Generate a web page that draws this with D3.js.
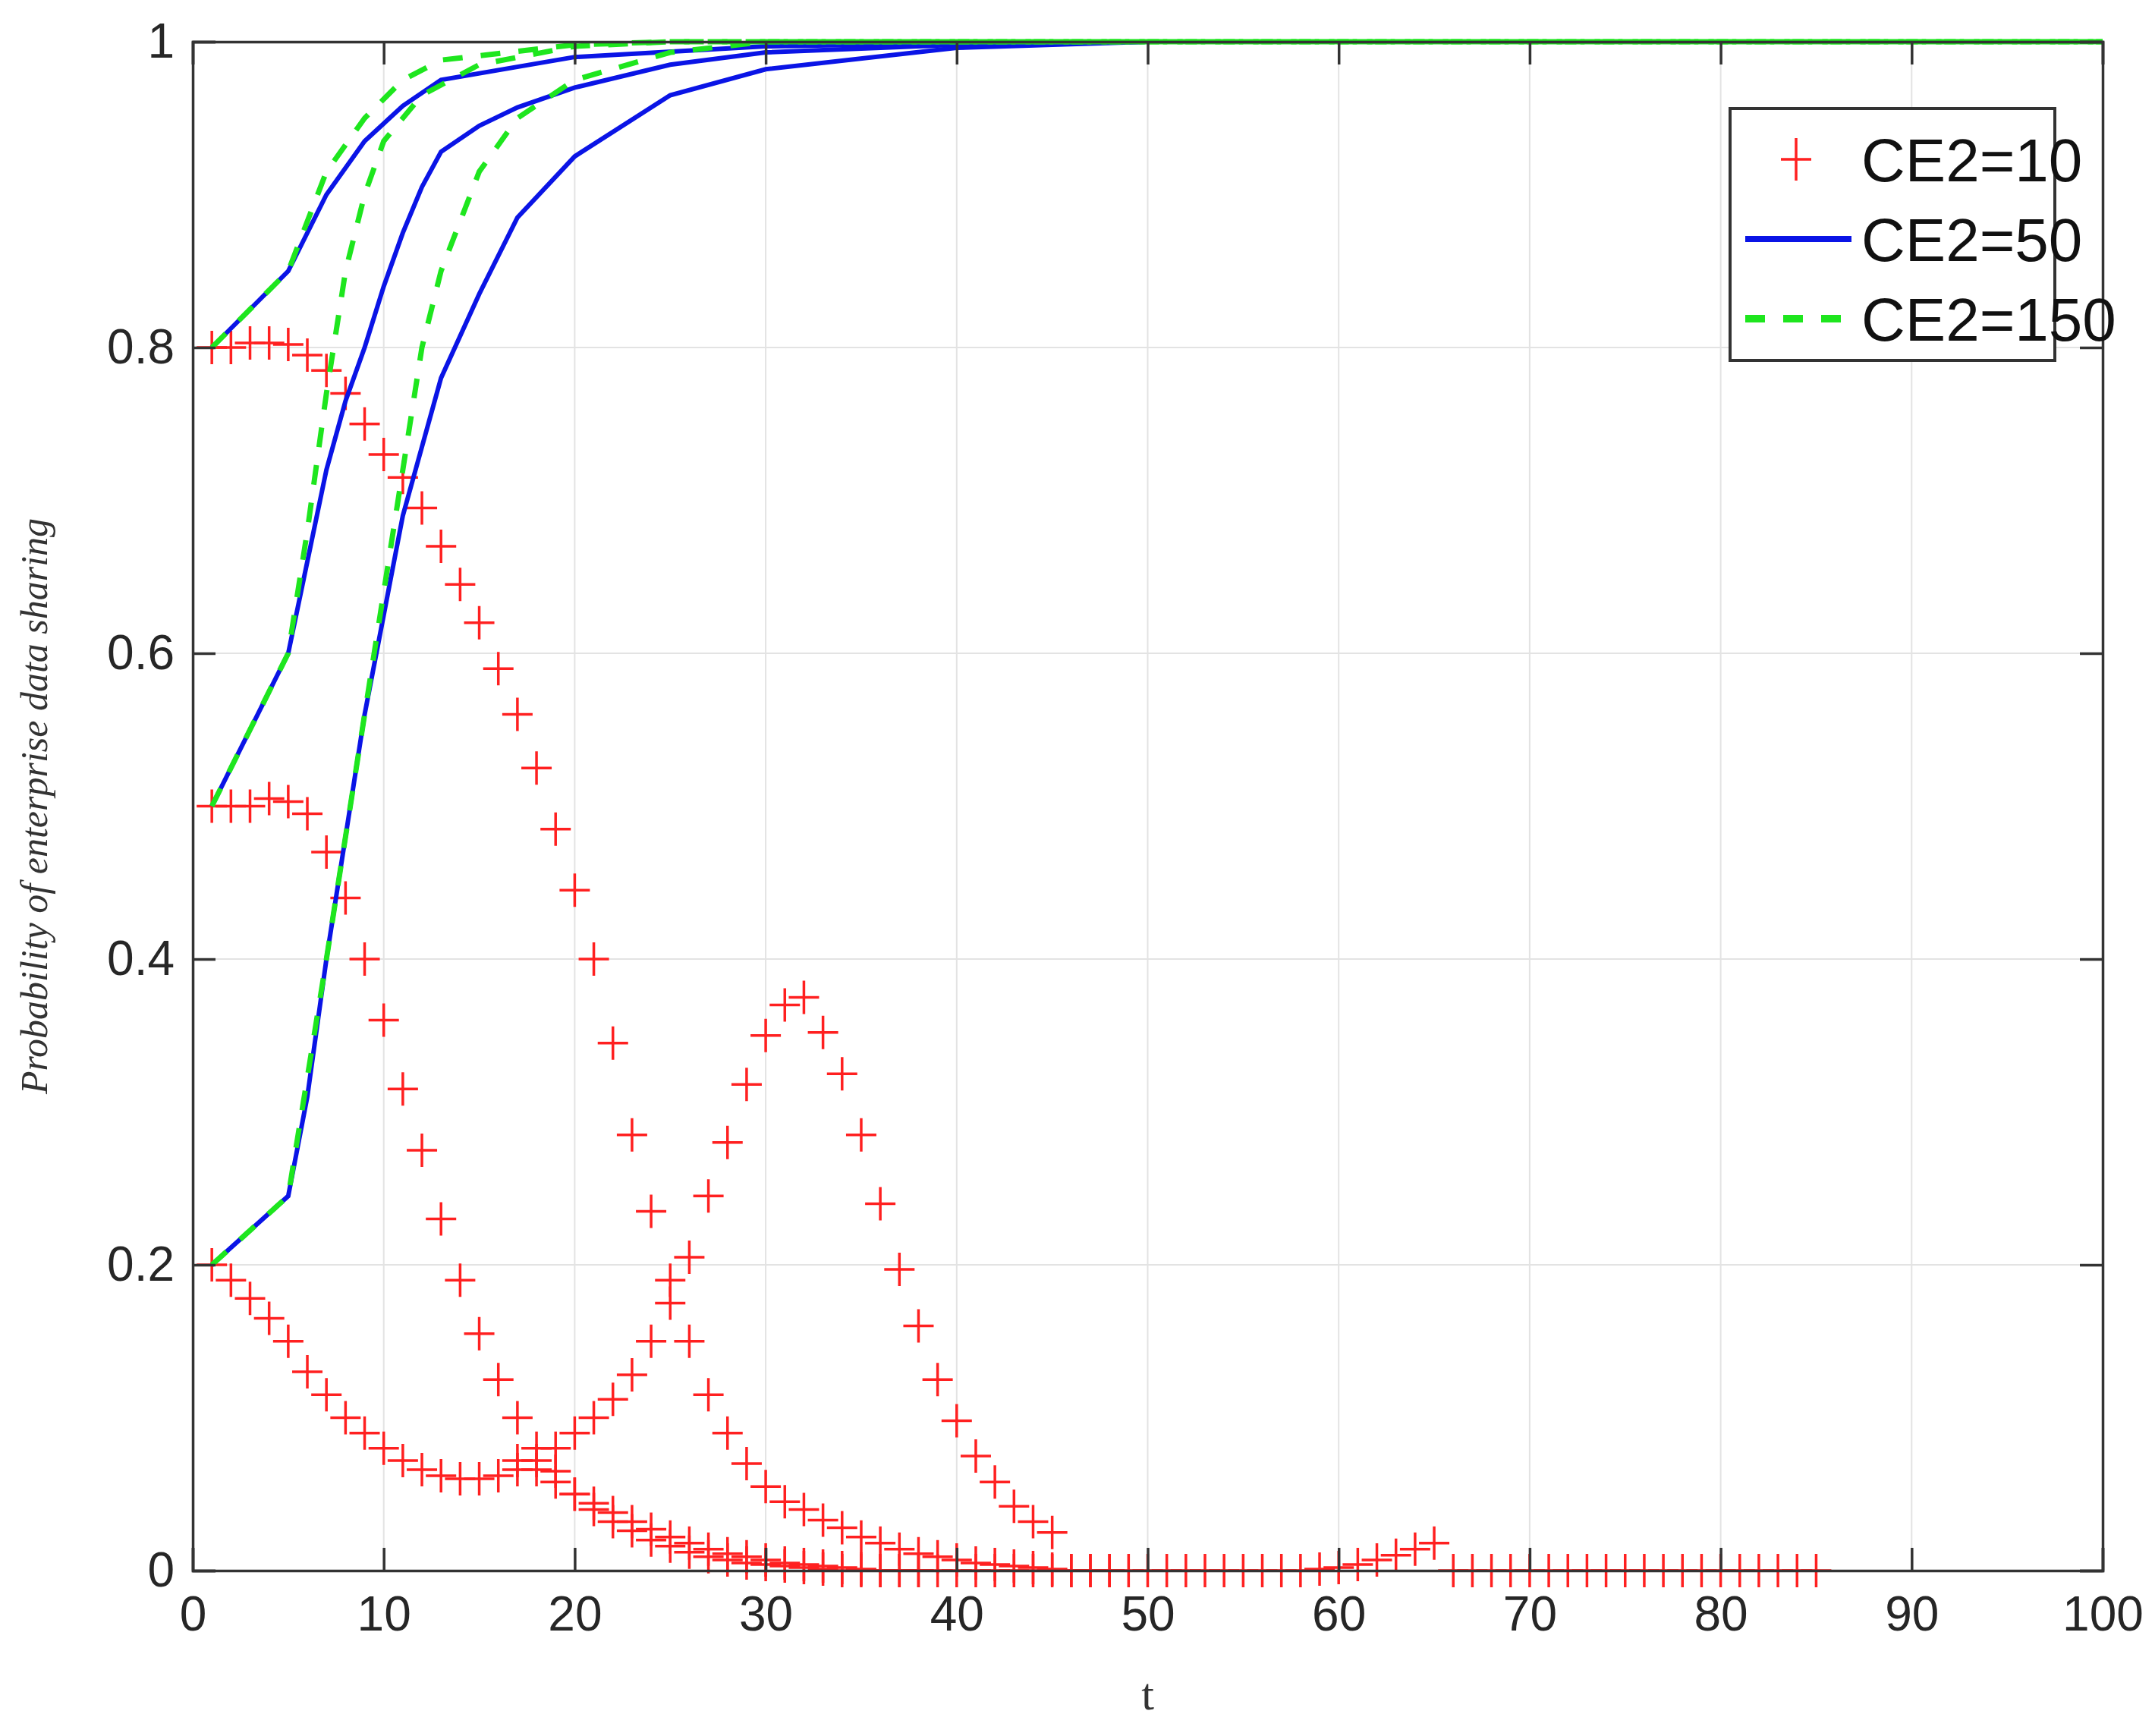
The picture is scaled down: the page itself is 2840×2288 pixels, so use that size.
<!DOCTYPE html>
<html><head><meta charset="utf-8">
<script src="https://cdn.jsdelivr.net/npm/d3@7"></script>
<style>body{margin:0;background:#fff}</style>
</head><body><div id="chart"></div>
<script>
// red marker series (CE2=10), t starts at given value, step 1
var redA_t0 = 1, redA = [.80,.80,.803,.803,.802,.795,.785,.77,.75,.73,.715,.695,.67,.645,.62,.59,.56,.525,.485,.445,.40,.345,.285,.235,.19,.15,.115,.09,.07,.055,.045,.04,.033,.028,.022,.018,.014,.011,.009,.007,.005,.004,.003,.002,.001,0,0,0];
var redB_t0 = 1, redB = [.50,.50,.50,.505,.503,.495,.47,.44,.40,.36,.315,.275,.23,.19,.155,.125,.10,.08,.065,.05,.04,.032,.026,.02,.016,.012,.009,.007,.005,.004,.003,.002,.001,0,0,0,0,0];
var redC_t0 = 1, redC = [.20,.19,.178,.165,.15,.13,.115,.10,.09,.08,.072,.066,.062,.06,.06,.062,.066,.072,.08,.09,.10,.112,.128,.15,.175,.205,.245,.28,.318,.35,.37,.375,.352,.325,.285,.24,.197,.16,.125,.098,.075,.058,.042,.032,.025];
var redD_t0 = 17, redD = [.072,.066,.058,.05,.044,.038,.032,.027,.022,.018,.014,.011,.009,.007,.005,.004,.003,.002,.001,0,0,0,0,0,0,0,0,0,0,0,0,0,0,0,0,0,0,0,0,0,0,0,.001,.002,.004,.007,.010,.014,.018];
var redE_t0 = 66, redE = [0,0,0,0,0,0,0,0,0,0,0,0,0,0,0,0,0,0,0,0];
// blue solid (CE2=50) and green dashed (CE2=150): [t, value]
var blue1 = [[1,.80],[5,.85],[7,.90],[9,.935],[11,.958],[13,.975],[20,.99],[30,.997],[40,.999],[50,1],[100,1]];
var blue2 = [[1,.50],[5,.60],[6,.66],[7,.72],[8,.765],[9,.80],[10,.84],[11,.875],[12,.905],[13,.928],[15,.945],[17,.957],[20,.97],[25,.985],[30,.993],[40,.998],[50,1],[100,1]];
var blue3 = [[1,.20],[5,.245],[6,.31],[7,.40],[8,.48],[9,.56],[10,.625],[11,.69],[12,.735],[13,.78],[15,.835],[17,.885],[20,.925],[25,.965],[30,.982],[40,.996],[50,1],[100,1]];
var green1 = [[1,.80],[5,.85],[7,.915],[9,.95],[11,.975],[13,.988],[20,.998],[25,1],[100,1]];
var green2 = [[1,.50],[5,.60],[6,.68],[7,.77],[8,.85],[9,.90],[10,.935],[12,.965],[15,.985],[20,.997],[25,1],[100,1]];
var green3 = [[1,.20],[5,.245],[7,.40],[9,.56],[10,.64],[11,.72],[12,.80],[13,.85],[15,.915],[17,.95],[20,.975],[25,.993],[30,1],[100,1]];
var xTicks = [0,10,20,30,40,50,60,70,80,90,100];
var yTicks = [0,0.2,0.4,0.6,0.8,1];
var legendLabels = ['CE2=10','CE2=50','CE2=150'];

var W = 2840, H = 2288;
var m = {left: 254, right: 69, top: 55, bottom: 218};
var svg = d3.select('#chart').append('svg').attr('width', W).attr('height', H);
var g = svg.append('g').attr('transform', 'translate(' + m.left + ',' + m.top + ')');
var iw = W - m.left - m.right, ih = H - m.top - m.bottom;

var x = d3.scaleLinear().domain([0, 100]).range([0, iw]);
var y = d3.scaleLinear().domain([0, 1]).range([ih, 0]);

// grid
g.selectAll('.gx').data(xTicks).enter().append('line')
  .attr('x1', function(d) { return x(d); }).attr('x2', function(d) { return x(d); })
  .attr('y1', 0).attr('y2', ih).attr('stroke', '#e3e3e3').attr('stroke-width', 2);
g.selectAll('.gy').data(yTicks).enter().append('line')
  .attr('y1', function(d) { return y(d); }).attr('y2', function(d) { return y(d); })
  .attr('x1', 0).attr('x2', iw).attr('stroke', '#e3e3e3').attr('stroke-width', 2);

var line = d3.line().x(function(d) { return x(d[0]); }).y(function(d) { return y(d[1]); });
function toPts(t0, arr) { return arr.map(function(v, i) { return [t0 + i, v]; }); }

var reds = [toPts(redA_t0, redA), toPts(redB_t0, redB), toPts(redC_t0, redC), toPts(redD_t0, redD), toPts(redE_t0, redE)];
reds.forEach(function(pts) {
  g.selectAll(null).data(pts).enter().append('path')
    .attr('transform', function(d) { return 'translate(' + x(d[0]) + ',' + y(d[1]) + ')'; })
    .attr('d', 'M-20,0H20M0,-22V22').attr('stroke', '#ff2020').attr('stroke-width', 3.5);
});

[blue1, blue2, blue3].forEach(function(pts) {
  g.append('path').attr('d', line(pts)).attr('fill', 'none').attr('stroke', '#0a14e6').attr('stroke-width', 6);
});
[green1, green2, green3].forEach(function(pts) {
  g.append('path').attr('d', line(pts)).attr('fill', 'none').attr('stroke', '#1ee61e')
    .attr('stroke-width', 7).attr('stroke-dasharray', '26,24');
});

// axes
var tickFont = 'Liberation Sans Narrow, Liberation Sans, Arial';
var xa = g.append('g').attr('transform', 'translate(0,' + ih + ')')
  .call(d3.axisBottom(x).tickValues(xTicks).tickSize(-30).tickPadding(34));
var ya = g.append('g').call(d3.axisLeft(y).tickValues(yTicks).tickSize(-30).tickPadding(24)
  .tickFormat(function(d) { return d === 0 || d === 1 ? d : d3.format('.1f')(d); }));
g.append('g').attr('transform', 'translate(' + iw + ',0)').call(d3.axisRight(y).tickValues(yTicks).tickSize(-30).tickFormat(''));
g.append('g').call(d3.axisTop(x).tickValues(xTicks).tickSize(-30).tickFormat(''));
g.selectAll('.domain, .tick line').attr('stroke', '#333').attr('stroke-width', 3.5);
g.selectAll('.tick text').attr('font-family', tickFont).attr('font-size', 64).attr('fill', '#262626');

svg.append('text').attr('x', m.left + iw / 2).attr('y', H - 35).attr('text-anchor', 'middle')
  .attr('font-family', 'Liberation Serif, serif').attr('font-size', 60).attr('fill', '#333').text('t');
svg.append('text').attr('transform', 'translate(62,' + (m.top + ih / 2) + ') rotate(-90)').attr('text-anchor', 'middle')
  .attr('font-family', 'Liberation Serif, serif').attr('font-style', 'italic').attr('font-size', 50).attr('fill', '#333')
  .text('Probability of enterprise data sharing');

// legend
var lg = svg.append('g').attr('transform', 'translate(2280,143)');
lg.append('rect').attr('width', 428).attr('height', 332).attr('fill', '#fff').attr('stroke', '#333').attr('stroke-width', 4);
legendLabels.forEach(function(lab, i) {
  var cy = 67 + i * 105;
  if (i === 0) {
    lg.append('path').attr('transform', 'translate(87,' + cy + ')').attr('d', 'M-20,0H20M0,-28V28').attr('stroke', '#ff2020').attr('stroke-width', 3.5);
  } else {
    lg.append('line').attr('x1', 20).attr('x2', 160).attr('y1', cy).attr('y2', cy)
      .attr('stroke', i === 1 ? '#0a14e6' : '#1ee61e').attr('stroke-width', i === 1 ? 8 : 10)
      .attr('stroke-dasharray', i === 2 ? '26,24' : null);
  }
  lg.append('text').attr('x', 173).attr('y', cy + 29).attr('font-family', tickFont).attr('font-size', 80)
    .attr('fill', '#111').text(lab);
});
</script></body></html>
